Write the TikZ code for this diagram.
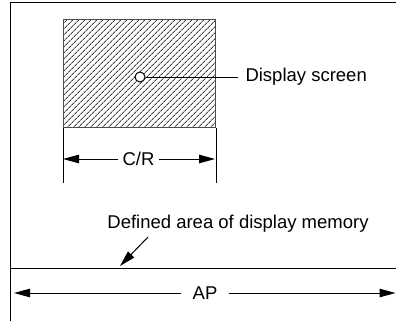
\documentclass[tikz,border=0pt]{standalone}
\usepackage{fontspec}
\setmainfont{Liberation Sans}
\usetikzlibrary{arrows.meta,patterns.meta}
\begin{document}
\begin{tikzpicture}[x=1pt,y=-1pt,line width=1pt,
  dim/.style={-{Triangle[length=16pt,width=8.5pt]}},
  lbl/.style={font=\fontsize{18.5}{22}\selectfont,inner sep=0pt}]
\useasboundingbox (0,0) rectangle (396,321);
% area of display memory
\draw (10,321) -- (10,3) -- (396,3);
\draw (10,268) -- (396,268);
% display screen
\node[draw=black!70,anchor=north west,inner sep=0pt,minimum width=152pt,minimum height=108pt,
  pattern={Lines[angle=45,distance=4pt,line width=1pt]},pattern color=black!75] (screen) at (63,19) {};
\node[circle,draw,fill=white,inner sep=0pt,minimum size=10pt] (dot) at (140,77) {};
\node[lbl,anchor=west] (scrlbl) at (245,77) {Display screen};
\coordinate (scrend) at (238,77);
\draw (dot) -- (scrend);
% C/R
\draw (screen.south west) -- ++(0,55);
\draw (screen.south east) -- ++(0,55);
\coordinate (crl) at (63,159);
\coordinate (crr) at (215,159);
\node[lbl,inner sep=4pt] (cr) at (138.5,159) {C/R};
\draw[dim] (cr) -- (crl);
\draw[dim] (cr) -- (crr);
% defined area
\node[lbl] (defined) at (238,224) {Defined area of display memory};
\coordinate (dtail) at (148,237);
\coordinate (dtip) at (120,266);
\draw[dim] (dtail) -- (dtip);
% AP
\coordinate (apl) at (14,293);
\coordinate (apr) at (395.5,293);
\node[lbl,inner sep=11pt] (ap) at (205,293) {AP};
\draw[dim] (ap) -- (apl);
\draw[dim] (ap) -- (apr);
\end{tikzpicture}
\end{document}
